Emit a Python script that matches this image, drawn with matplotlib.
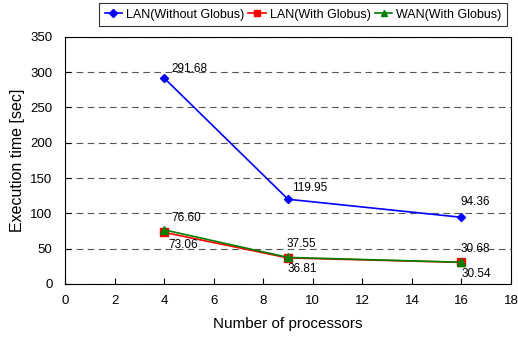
import matplotlib
matplotlib.use('Agg')
import matplotlib.pyplot as plt

plt.rcParams['font.family'] = ['Liberation Sans', 'DejaVu Sans']

processors = [4, 9, 16]
lan_without = [291.68, 119.95, 94.36]
lan_with = [73.06, 36.81, 30.54]
wan_with = [76.60, 37.55, 30.68]

# label offsets in points (dx, dy), positive dy = above the point
off_lan_without = [(5, 2), (3, 4), (-1, 7)]
off_wan_with = [(5, 4), (-1, 5), (-1, 5)]
off_lan_with = [(3, -5), (0, -4), (0, -4)]

fig = plt.figure(figsize=(5.18, 3.38), dpi=100)
ax = fig.add_axes([0.1255, 0.160, 0.861, 0.731])

ax.plot(processors, lan_without, color='blue', marker='D', markersize=4.5, lw=1.2,
        label='LAN(Without Globus)')
ax.plot(processors, lan_with, color='red', marker='s', markersize=5.5, lw=1.2,
        label='LAN(With Globus)')
ax.plot(processors, wan_with, color='green', marker='^', markersize=6, lw=1.2,
        label='WAN(With Globus)')

for ys, offs in [(lan_without, off_lan_without), (wan_with, off_wan_with)]:
    for x, y, o in zip(processors, ys, offs):
        ax.annotate('%.2f' % y, (x, y), xytext=o, textcoords='offset points',
                    fontsize=8.5, va='bottom')
for x, y, o in zip(processors, lan_with, off_lan_with):
    ax.annotate('%.2f' % y, (x, y), xytext=o, textcoords='offset points',
                fontsize=8.5, va='top')

ax.set_xlim(0, 18)
ax.set_ylim(0, 350)
ax.set_xticks(range(0, 19, 2))
ax.set_yticks(range(0, 351, 50))
ax.tick_params(direction='in', labelsize=9.5, length=4, width=0.8)
ax.tick_params(axis='x', pad=8)
ax.tick_params(axis='y', pad=9)
ax.grid(axis='y', linestyle=(0, (6, 4)), color='#555555', linewidth=0.8)
ax.set_axisbelow(True)
for s in ax.spines.values():
    s.set_linewidth(0.8)

ax.set_xlabel('Number of processors', fontsize=11, labelpad=7)
ax.set_ylabel('Execution time [sec]', fontsize=11.5, labelpad=4)

leg = fig.legend(loc='upper right', bbox_to_anchor=(0.979, 0.991), ncol=3, fontsize=9,
                 frameon=True, fancybox=False, edgecolor='black', handlelength=1.4,
                 handletextpad=0.3, columnspacing=0.35, borderpad=0.45, markerscale=0.8,
                 borderaxespad=0)
leg.get_frame().set_linewidth(0.8)

fig.savefig('out.png', dpi=100)
